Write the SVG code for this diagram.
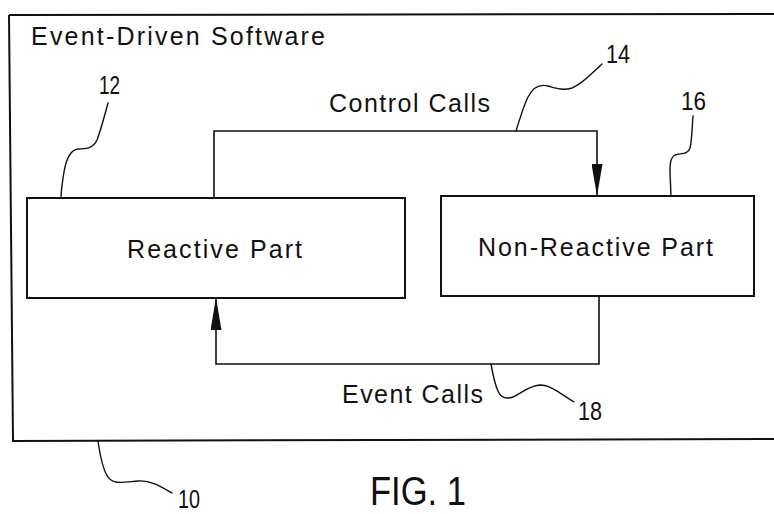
<svg xmlns="http://www.w3.org/2000/svg" width="774" height="514" viewBox="0 0 774 514">
  <style>
    .frame { fill: none; stroke: #111; stroke-width: 2; }
    .box { fill: #fff; stroke: #111; stroke-width: 2; }
    .wire { fill: none; stroke: #111; stroke-width: 1.6; }
    .lead { fill: none; stroke: #111; stroke-width: 1.4; stroke-linecap: round; stroke-linejoin: round; }
    .lbl { font-family: "Liberation Sans", Arial, sans-serif; fill: #111; }
    .big { font-size: 25px; }
    .num { font-size: 25px; }
    .fig { font-size: 40px; }
  </style>
  <defs>
    <marker id="arrow" viewBox="0 0 32 11" refX="32" refY="5.5" markerWidth="32" markerHeight="11" markerUnits="userSpaceOnUse" orient="auto">
      <path d="M0,0 L32,5.5 L0,11 Z" fill="#111"/>
    </marker>
  </defs>

  <!-- outer system boundary -->
  <g id="system">
    <path class="frame" d="M9,15 L774,14 M9,15 L13,441 L774,439"/>
    <text class="lbl big" x="31" y="45" textLength="294" lengthAdjust="spacing">Event-Driven Software</text>
  </g>

  <g id="reactive">
    <rect class="box" x="27" y="198" width="378" height="100"/>
    <text class="lbl big" x="127" y="258" textLength="175" lengthAdjust="spacing">Reactive Part</text>
  </g>

  <g id="non-reactive">
    <rect class="box" x="441" y="196" width="313" height="100"/>
    <text class="lbl big" x="478" y="256" textLength="235" lengthAdjust="spacing">Non-Reactive Part</text>
  </g>

  <!-- call paths between the two parts -->
  <g id="connectors">
    <path class="wire" d="M214,198 L214,131 L597,131 L597,196" marker-end="url(#arrow)"/>
    <path class="wire" d="M599,296 L599,364 L216,364 L216,298" marker-end="url(#arrow)"/>
    <text class="lbl big" x="329" y="112" textLength="161" lengthAdjust="spacing">Control Calls</text>
    <text class="lbl big" x="342" y="403" textLength="141" lengthAdjust="spacing">Event Calls</text>
  </g>

  <!-- reference numerals and leader lines -->
  <g id="ref-10">
    <path class="lead" d="M98,441 C100,455 103,470 108,477 C113,485 125,482 138,481 C150,480 160,486 172,493"/>
    <text class="lbl num" x="178" y="508" font-size="23" textLength="22" lengthAdjust="spacingAndGlyphs">10</text>
  </g>
  <g id="ref-12">
    <path class="lead" d="M108,103 C104,118 100,132 97,140 C93,149 85,149 78,149 C70,150 66,160 64,172 C62,184 61,192 61,198"/>
    <text class="lbl num" x="99" y="94" textLength="21" lengthAdjust="spacingAndGlyphs">12</text>
  </g>
  <g id="ref-14">
    <path class="lead" d="M516,131 C520,118 524,105 528,97 C533,87 540,84 548,86 C555,88 563,91 572,88 C583,84 593,72 602,64"/>
    <text class="lbl num" x="606" y="63" textLength="24" lengthAdjust="spacingAndGlyphs">14</text>
  </g>
  <g id="ref-16">
    <path class="lead" d="M693,116 C692,128 692,140 690,148 C688,155 680,153 675,155 C670,158 670,165 670,172 L671,196"/>
    <text class="lbl num" x="681" y="110" textLength="25" lengthAdjust="spacingAndGlyphs">16</text>
  </g>
  <g id="ref-18">
    <path class="lead" d="M491,364 C493,375 495,385 498,391 C501,398 507,399 513,397 C520,394 528,386 540,385 C552,385 563,396 574,402"/>
    <text class="lbl num" x="578" y="420" textLength="24" lengthAdjust="spacingAndGlyphs">18</text>
  </g>

  <text class="lbl fig" x="370" y="505" textLength="96" lengthAdjust="spacingAndGlyphs">FIG. 1</text>
</svg>
